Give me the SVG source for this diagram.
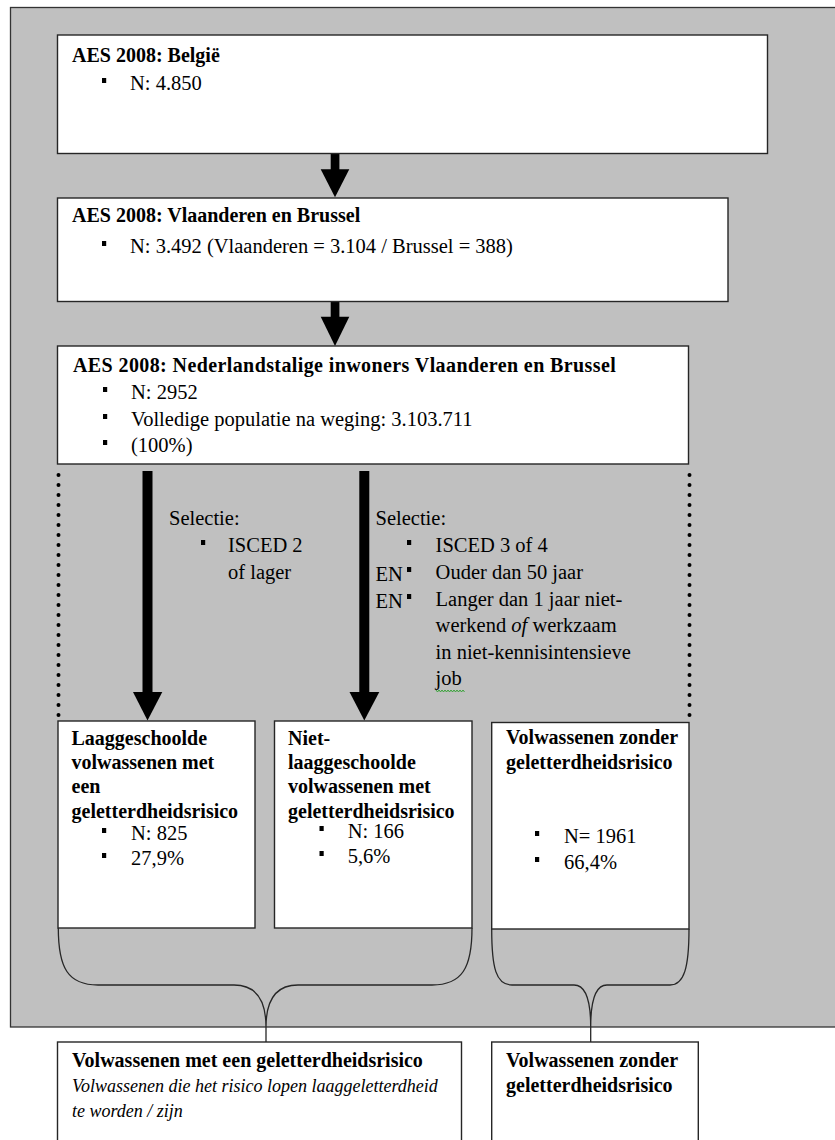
<svg xmlns="http://www.w3.org/2000/svg" width="835" height="1140" viewBox="0 0 835 1140">
<style>
  .bg { fill: #C0C0C0; stroke: #333; stroke-width: 1.3; }
  .box { fill: #fff; stroke: #262626; stroke-width: 1.4; }
  .t { font-family: "Liberation Serif", "Times New Roman", serif; font-size: 20.5px; fill: #000; }
  .b { font-family: "Liberation Serif", "Times New Roman", serif; font-size: 20px; font-weight: bold; fill: #000; }
  .i { font-family: "Liberation Serif", "Times New Roman", serif; font-size: 18px; font-style: italic; fill: #000; }
  .bul { fill: #000; }
  .arrow { fill: #000; }
  .dots { stroke: #000; stroke-width: 4; stroke-linecap: round; stroke-dasharray: 0 10; fill: none; }
  .brace { fill: none; stroke: #262626; stroke-width: 1.3; }
  .squig { fill: none; stroke: #2ca02c; stroke-width: 0.9; }
</style>
<defs>
  <rect id="bl" class="bul" x="-2" y="-12" width="4.2" height="5"/>
</defs>

<rect class="bg" x="10.5" y="7.5" width="840" height="1019.5"/>

<g id="connectors">
  <rect class="arrow" x="330.7" y="127" width="8.7" height="43"/>
  <polygon class="arrow" points="320.7,169.3 349.3,169.3 335,197.3"/>
  <rect class="arrow" x="330.7" y="282.7" width="8.7" height="34.5"/>
  <polygon class="arrow" points="320.7,316.7 349.3,316.7 335,346"/>
  <rect class="arrow" x="142.5" y="471" width="10" height="221.5"/>
  <polygon class="arrow" points="133,692 162.3,692 147.5,720.5"/>
  <rect class="arrow" x="359.3" y="471" width="10" height="221.5"/>
  <polygon class="arrow" points="349.5,692 379.3,692 364.3,720.5"/>
  <line class="dots" x1="58.5" y1="475" x2="58.5" y2="716"/>
  <line class="dots" x1="689.5" y1="475" x2="689.5" y2="716"/>
  <path class="brace" d="M58.3,928 C58.3,968 68,985 98,985 L234,985 C256,985 266,1000 266,1027 M472,928 C472,968 462,985 432,985 L298,985 C276,985 266,1000 266,1027"/>
  <path class="brace" d="M491.7,929 C491.7,968 496,985 512,985 L574,985 C586,985 590.7,1002 590.7,1027 M689,929 C689,968 684,985 670,985 L607,985 C595,985 590.7,1002 590.7,1027"/>
  <line class="brace" x1="266" y1="1027" x2="266" y2="1042"/>
  <line class="brace" x1="590.7" y1="1027" x2="590.7" y2="1042"/>
</g>

<g id="node-belgie">
  <rect class="box" x="57.5" y="35" width="710" height="118.5"/>
  <text class="b" x="72" y="62">AES 2008: België</text>
  <use href="#bl" x="104" y="90"/>
  <text class="t" x="130" y="90">N: 4.850</text>
</g>

<g id="node-vlaanderen-brussel">
  <rect class="box" x="57.5" y="198" width="670.5" height="103.5"/>
  <text class="b" x="72" y="222">AES 2008: Vlaanderen en Brussel</text>
  <use href="#bl" x="104" y="253"/>
  <text class="t" x="130" y="253">N: 3.492 (Vlaanderen = 3.104 / Brussel = 388)</text>
</g>

<g id="node-nederlandstalig">
  <rect class="box" x="57.5" y="346" width="631" height="118"/>
  <text class="b" x="73" y="372" letter-spacing="0.4">AES 2008: Nederlandstalige inwoners Vlaanderen en Brussel</text>
  <use href="#bl" x="105" y="399"/>
  <text class="t" x="131" y="399">N: 2952</text>
  <use href="#bl" x="105" y="426"/>
  <text class="t" x="131" y="426">Volledige populatie na weging: 3.103.711</text>
  <use href="#bl" x="105" y="452"/>
  <text class="t" x="131" y="452">(100%)</text>
</g>

<g id="label-selectie-1">
  <text class="t" x="169" y="525">Selectie:</text>
  <use href="#bl" x="203" y="552"/>
  <text class="t" x="228" y="552">ISCED 2</text>
  <text class="t" x="228" y="579">of lager</text>
</g>

<g id="label-selectie-2">
  <text class="t" x="375.5" y="525">Selectie:</text>
  <use href="#bl" x="409" y="552"/>
  <text class="t" x="435.6" y="552">ISCED 3 of 4</text>
  <text class="t" x="375.5" y="581">EN</text>
  <use href="#bl" x="409" y="579"/>
  <text class="t" x="435.6" y="579">Ouder dan 50 jaar</text>
  <text class="t" x="375.5" y="608">EN</text>
  <use href="#bl" x="409" y="606"/>
  <text class="t" x="435.6" y="606">Langer dan 1 jaar niet-</text>
  <text class="t" x="435.6" y="632">werkend <tspan font-style="italic">of</tspan> werkzaam</text>
  <text class="t" x="435.6" y="659">in niet-kennisintensieve</text>
  <text class="t" x="435.6" y="685">job</text>
  <polyline class="squig" points="436,690 437.5,692 439,690 440.5,692 442,690 443.5,692 445,690 446.5,692 448,690 449.5,692 451,690 452.5,692 454,690 455.5,692 457,690 458.5,692 460,690 461.5,692 463,690 464.5,692"/>
</g>

<g id="node-laaggeschoold">
  <rect class="box" x="58" y="721" width="197" height="207"/>
  <text class="b" x="71.5" y="745">Laaggeschoolde</text>
  <text class="b" x="71.5" y="769">volwassenen met</text>
  <text class="b" x="71.5" y="793">een</text>
  <text class="b" x="71.5" y="818">geletterdheidsrisico</text>
  <use href="#bl" x="104" y="840"/>
  <text class="t" x="131" y="840">N: 825</text>
  <use href="#bl" x="104" y="865"/>
  <text class="t" x="131" y="865">27,9%</text>
</g>

<g id="node-niet-laaggeschoold">
  <rect class="box" x="274.5" y="721" width="197.5" height="207"/>
  <text class="b" x="288" y="745">Niet-</text>
  <text class="b" x="288" y="769">laaggeschoolde</text>
  <text class="b" x="288" y="793">volwassenen met</text>
  <text class="b" x="288" y="818">geletterdheidsrisico</text>
  <use href="#bl" x="321.5" y="838"/>
  <text class="t" x="347.7" y="838">N: 166</text>
  <use href="#bl" x="321.5" y="863"/>
  <text class="t" x="347.7" y="863">5,6%</text>
</g>

<g id="node-zonder-risico">
  <rect class="box" x="491.7" y="722.5" width="197.3" height="206.5"/>
  <text class="b" x="506" y="744">Volwassenen zonder</text>
  <text class="b" x="506" y="769">geletterdheidsrisico</text>
  <use href="#bl" x="537" y="843"/>
  <text class="t" x="564" y="843">N= 1961</text>
  <use href="#bl" x="537" y="869"/>
  <text class="t" x="564" y="869">66,4%</text>
</g>

<g id="node-met-risico-totaal">
  <rect class="box" x="57.5" y="1042" width="404" height="120"/>
  <text class="b" x="72" y="1067">Volwassenen met een geletterdheidsrisico</text>
  <text class="i" x="72" y="1092">Volwassenen die het risico lopen laaggeletterdheid</text>
  <text class="i" x="72" y="1117">te worden / zijn</text>
</g>

<g id="node-zonder-risico-totaal">
  <rect class="box" x="491.7" y="1042" width="206.6" height="120"/>
  <text class="b" x="506" y="1067">Volwassenen zonder</text>
  <text class="b" x="506" y="1092">geletterdheidsrisico</text>
</g>
</svg>
